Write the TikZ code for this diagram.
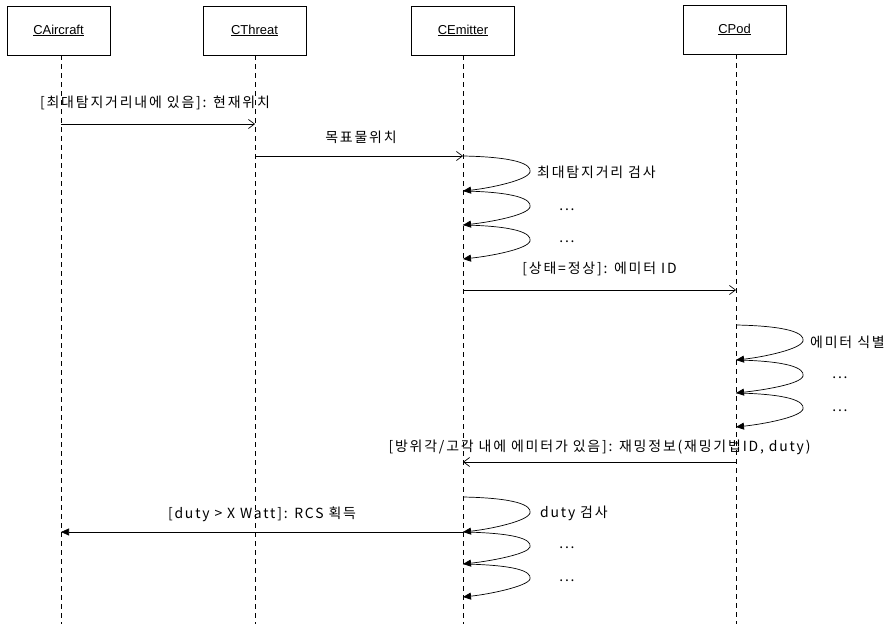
\documentclass[tikz,border=0pt]{standalone}
\usepackage{fontspec}
\setmainfont{Liberation Sans}
\newfontfamily\kr[LetterSpace=13]{Noto Sans CJK KR}
\usetikzlibrary{arrows.meta}
\begin{document}
\begin{tikzpicture}[x=1bp,y=-1bp,
  obj/.style={draw,line width=0.8bp,minimum width=103bp,minimum height=49bp,inner sep=0pt,font=\fontsize{13}{15}\selectfont},
  life/.style={line width=0.7bp,dash pattern=on 5bp off 4bp},
  msg/.style={line width=0.7bp,-{Straight Barb[length=6bp,width=9bp]}},
  fmsg/.style={line width=0.7bp,-{Triangle[length=8bp,width=7bp]}},
  lbl/.style={font=\kr\fontsize{14}{16}\selectfont,inner sep=0pt},
  loop/.style={fmsg},
]
\useasboundingbox (0,0) rectangle (889,624);
% objects
\node[obj] (a) at (58.5,30.5) {\underline{CAircraft}};
\node[obj] (t) at (254.5,30.5) {\underline{CThreat}};
\node[obj] (e) at (463,30.5) {\underline{CEmitter}};
\node[obj] (p) at (734.5,29.5) {\underline{CPod}};
% lifeline ends
\coordinate (ae) at (61,624);
\coordinate (te) at (255,624);
\coordinate (ee) at (463,624);
\coordinate (pe) at (736,624);
\draw[life] (a.south -| ae) -- (ae);
\draw[life] (t.south -| te) -- (te);
\draw[life] (e.south -| ee) -- (ee);
\draw[life] (p.south -| pe) -- (pe);
% message points
\coordinate (m1a) at (61,124); \coordinate (m1b) at (255,124);
\coordinate (m2a) at (255,156); \coordinate (m2b) at (463,156);
\coordinate (e1) at (463,191); \coordinate (e2) at (463,225); \coordinate (e3) at (463,259);
\coordinate (m4a) at (463,290); \coordinate (m4b) at (736,290);
\coordinate (p0) at (736,325); \coordinate (p1) at (736,360); \coordinate (p2) at (736,393); \coordinate (p3) at (736,427);
\coordinate (m5a) at (736,462); \coordinate (m5b) at (463,462);
\coordinate (d0) at (463,497); \coordinate (d1) at (463,532); \coordinate (d2) at (463,564); \coordinate (d3) at (463,597);
\coordinate (m6b) at (61,532);
% messages
\draw[msg] (m1a) -- node[lbl,midway,yshift=21bp,xshift=-3bp] {[최대탐지거리내에 있음]: 현재위치} (m1b);
\draw[msg] (m2a) -- node[lbl,midway,yshift=19bp,xshift=2bp] {목표물위치} (m2b);
\draw[loop] (m2b) .. controls ++(52,1) and ++(2,-8) .. ++(67,16) .. controls ++(-2,8) and ++(28,-3) .. (e1);
\draw[loop] (e1) .. controls ++(52,1) and ++(2,-8) .. ++(67,16) .. controls ++(-2,8) and ++(28,-3) .. (e2);
\draw[loop] (e2) .. controls ++(52,1) and ++(2,-8) .. ++(67,16) .. controls ++(-2,8) and ++(28,-3) .. (e3);
\node[lbl,anchor=west] (l1) at (537,172) {최대탐지거리 검사};
\node[lbl] (l2) at (567,210) {...};
\node[lbl] (l3) at (567,242) {...};
\draw[msg] (m4a) -- node[lbl,midway,yshift=21bp] {[상태=정상]: 에미터 ID} (m4b);
\draw[loop] (p0) .. controls ++(52,1) and ++(2,-8) .. ++(67,16) .. controls ++(-2,8) and ++(28,-3) .. (p1);
\draw[loop] (p1) .. controls ++(52,1) and ++(2,-8) .. ++(67,16) .. controls ++(-2,8) and ++(28,-3) .. (p2);
\draw[loop] (p2) .. controls ++(52,1) and ++(2,-8) .. ++(67,16) .. controls ++(-2,8) and ++(28,-3) .. (p3);
\node[lbl,anchor=west] (l4) at (810,342) {에미터 식별};
\node[lbl] (l5) at (840,378) {...};
\node[lbl] (l6) at (840,411) {...};
\draw[msg] (m5a) -- node[lbl,midway,yshift=15bp] {[방위각/고각 내에 에미터가 있음]: 재밍정보(재밍기법ID, duty)} (m5b);
\draw[loop] (d0) .. controls ++(52,1) and ++(2,-8) .. ++(67,16) .. controls ++(-2,8) and ++(28,-3) .. (d1);
\draw[loop] (d1) .. controls ++(52,1) and ++(2,-8) .. ++(67,15) .. controls ++(-2,7) and ++(28,-3) .. (d2);
\draw[loop] (d2) .. controls ++(52,1) and ++(2,-8) .. ++(67,15) .. controls ++(-2,7) and ++(28,-3) .. (d3);
\node[lbl,anchor=west] (l7) at (540,513) {duty 검사};
\node[lbl] (l8) at (567,548) {...};
\node[lbl] (l9) at (567,581) {...};
\draw[fmsg] (d1) -- node[lbl,midway,yshift=18bp] {[duty > X Watt]: RCS 획득} (m6b);
\end{tikzpicture}
\end{document}
